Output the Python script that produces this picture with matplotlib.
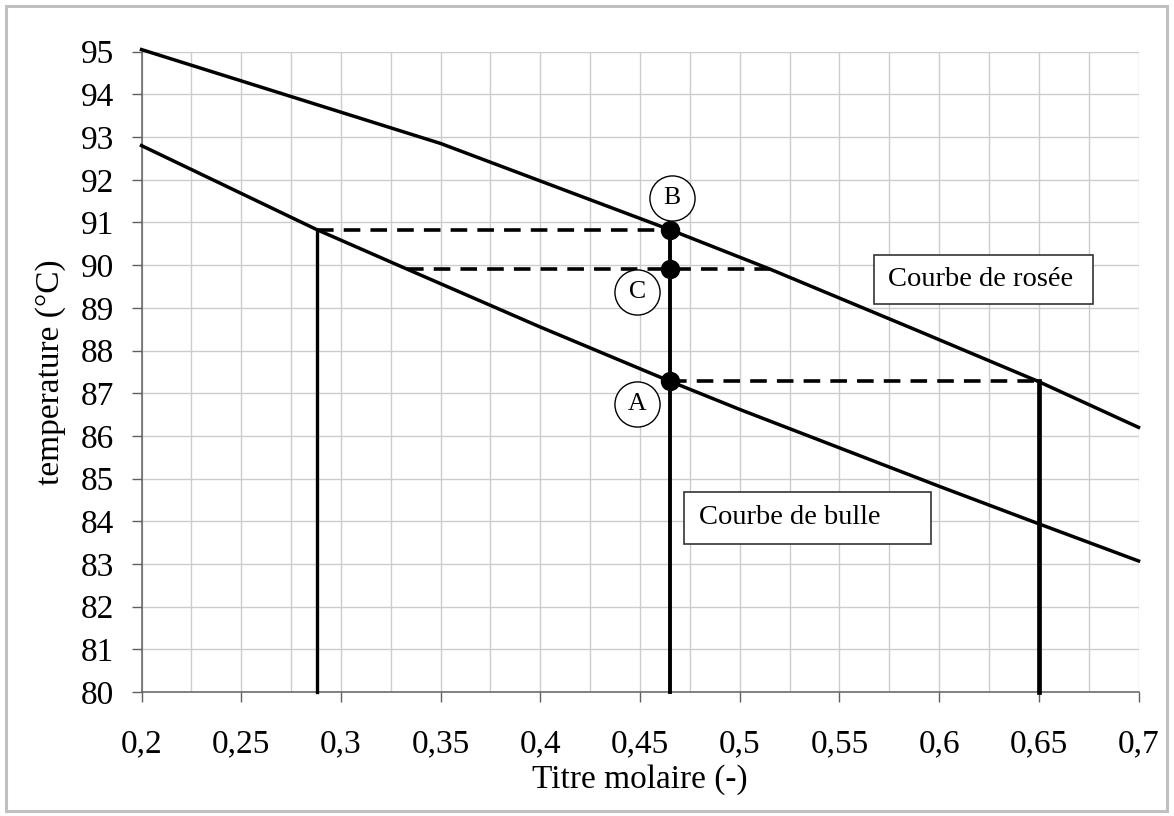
import matplotlib
matplotlib.use('Agg')
import matplotlib.pyplot as plt
from matplotlib.patches import Rectangle
from matplotlib.ticker import FixedLocator, MultipleLocator

plt.rcParams['font.family'] = ['Liberation Serif', 'DejaVu Serif']

# ---- data ----
dew_x = [0.2, 0.35, 0.465, 0.515, 0.59, 0.65, 0.7]
dew_y = [95.05, 92.85, 90.83, 89.91, 88.45, 87.27, 86.2]
bubble_x = [0.2, 0.288, 0.333, 0.4, 0.465, 0.5, 0.6, 0.65, 0.7]
bubble_y = [92.8, 90.83, 89.91, 88.55, 87.28, 86.62, 84.82, 83.94, 83.07]

x_liq = 0.288     # liquid in equilibrium at T_B
x_feed = 0.465    # feed composition
x_vap = 0.65      # vapour in equilibrium at T_A
x_C_left = 0.333
x_C_right = 0.515
T_B = 90.83
T_C = 89.91
T_A = 87.28
y_min, y_max = 80, 95
x_min, x_max = 0.2, 0.7

point_labels = ['B', 'C', 'A']
point_label_x = [0.4658, 0.4486, 0.4486]
point_label_y = [91.58, 89.38, 86.75]

box_texts = ['Courbe de rosée', 'Courbe de bulle']
box_x0 = [0.5674, 0.4722]
box_x1 = [0.6771, 0.5960]
box_y0 = [89.09, 83.47]
box_y1 = [90.24, 84.69]

x_ticks = [0.2, 0.25, 0.3, 0.35, 0.4, 0.45, 0.5, 0.55, 0.6, 0.65, 0.7]
x_ticklabels = ['0,2', '0,25', '0,3', '0,35', '0,4', '0,45', '0,5', '0,55', '0,6', '0,65', '0,7']
y_ticks = list(range(80, 96))
y_ticklabels = [str(v) for v in y_ticks]

# ---- figure ----
W, H = 1174, 816
fig = plt.figure(figsize=(W / 100, H / 100), dpi=100)
fig.patch.set_facecolor('white')
ax = fig.add_axes([141.5 / W, (H - 692) / H, (1138.5 - 141.5) / W, (692 - 51.7) / H])

fig.patches.append(Rectangle((6 / W, 5 / H), (1167 - 6) / W, (810 - 5) / H,
                             transform=fig.transFigure, fill=False,
                             edgecolor='#c0c0c0', lw=2.2))

ax.set_xlim(x_min, x_max)
ax.set_ylim(y_min, y_max)

spine_col = '#606060'
for s in ['top', 'right']:
    ax.spines[s].set_visible(False)
for s in ['left', 'bottom']:
    ax.spines[s].set_color(spine_col)
    ax.spines[s].set_linewidth(1.1)

ax.xaxis.set_major_locator(FixedLocator(x_ticks))
ax.set_xticklabels(x_ticklabels)
ax.xaxis.set_minor_locator(MultipleLocator(0.025))
ax.yaxis.set_major_locator(FixedLocator(y_ticks))
ax.set_yticklabels(y_ticklabels)

ax.tick_params(axis='both', which='major', direction='out', length=7.5, width=1,
               color=spine_col, labelsize=24)
ax.tick_params(axis='x', which='major', pad=19)
ax.tick_params(axis='y', which='major', pad=12)
ax.tick_params(axis='x', which='minor', length=0)

ax.grid(True, which='both', color='#cccccc', lw=1.0, zorder=0)
ax.set_axisbelow(True)

# curves
ax.plot(dew_x, dew_y, color='black', lw=2.5, zorder=3, clip_on=False)
ax.plot(bubble_x, bubble_y, color='black', lw=2.5, zorder=3, clip_on=False)

# vertical lines
ax.plot([x_liq, x_liq], [y_min, T_B], color='black', lw=2.4, zorder=3,
        clip_on=False, solid_capstyle='projecting')
ax.plot([x_feed, x_feed], [y_min, T_B], color='black', lw=2.8, zorder=3,
        clip_on=False, solid_capstyle='projecting')
ax.plot([x_vap, x_vap], [y_min, T_A], color='black', lw=3.4, zorder=3,
        clip_on=False, solid_capstyle='projecting')

# dashed tie lines
dash = (0, (4.6, 2.8))
ax.plot([x_liq, x_feed], [T_B, T_B], color='black', lw=2.6, ls=dash, zorder=3,
        dash_capstyle='butt')
ax.plot([x_C_left, x_C_right], [T_C, T_C], color='black', lw=2.6, ls=dash, zorder=3,
        dash_capstyle='butt')
ax.plot([x_feed, x_vap], [T_A, T_A], color='black', lw=2.6, ls=dash, zorder=3,
        dash_capstyle='butt')

# points
ax.plot([x_feed, x_feed, x_feed], [T_B, T_C, T_A], 'o', color='black', ms=13, zorder=4)

# circled letters
ax.plot(point_label_x, point_label_y, 'o', ms=32.5, mfc='white', mec='black',
        mew=1.0, zorder=5, clip_on=False)
for lab, px, py in zip(point_labels, point_label_x, point_label_y):
    ax.text(px, py, lab, ha='center', va='center', fontsize=18.5, zorder=6)

# boxed labels
for t, x0, x1, y0, y1 in zip(box_texts, box_x0, box_x1, box_y0, box_y1):
    ax.add_patch(Rectangle((x0, y0), x1 - x0, y1 - y0, facecolor='white',
                           edgecolor='#333333', lw=1.2, zorder=5))
    ax.text(x0 + 0.0072, (y0 + y1) / 2, t, ha='left', va='center',
            fontsize=20.5, zorder=6)

ax.set_xlabel('Titre molaire (-)', fontsize=24)
ax.xaxis.set_label_coords(0.5, -0.112)
ax.set_ylabel('temperature (°C)', fontsize=24)
ax.yaxis.set_label_coords(-0.076, 0.5)

fig.savefig('out.png', dpi=100)
